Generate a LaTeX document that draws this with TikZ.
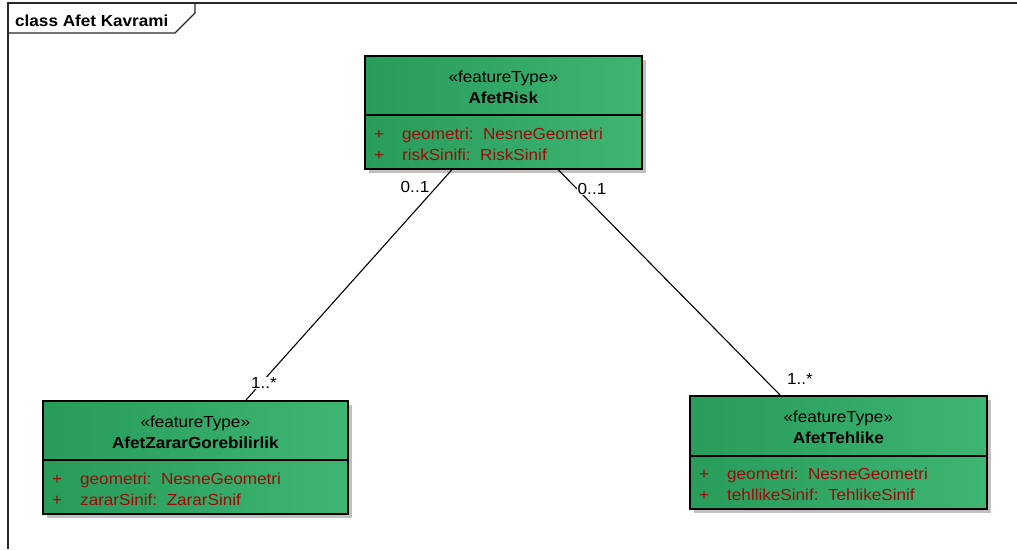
\documentclass[tikz,border=0pt]{standalone}
\usepackage{fontspec}
\setmainfont{Liberation Sans}[FakeStretch=1.07]
\usetikzlibrary{calc}

\definecolor{boxdark}{RGB}{40,156,90}
\definecolor{boxlight}{RGB}{62,181,115}
\definecolor{attrred}{RGB}{155,10,10}
\definecolor{shadowgray}{RGB}{192,192,192}
\definecolor{framegray}{RGB}{40,40,40}

\tikzset{
  umltext/.style={font=\fontsize{16}{18}\selectfont, inner sep=0pt, text=black},
  umlname/.style={umltext, font=\fontsize{16}{18}\selectfont\bfseries},
  umlattr/.style={umltext, text=attrred},
  classbody/.style={draw=black, line width=1.6pt, left color=boxdark, right color=boxlight,
                    inner sep=0pt, anchor=north west},
  mult/.style={font=\fontsize{16}{18}\selectfont, fill=white, inner sep=0.6pt},
  assoc/.style={draw=black, line width=1.1pt},
}

% #1 node name, #2 left, #3 top, #4 width, #5 height, #6 divider offset
% #7 class name, #8 first attribute, #9 second attribute
\newcommand\umlclassbox[9]{%
  \fill[shadowgray] (#2+5,#3+5) rectangle ++(#4,#5);
  \node[classbody, minimum width=#4, minimum height=#5] (#1) at (#2,#3) {};
  \draw[line width=1.6pt] ($(#1.north west)+(0,#6)$) -- ($(#1.north east)+(0,#6)$);
  \node[umltext, anchor=base] (#1-st) at ($(#1.north)+(0,27)$) {«featureType»};
  \node[umlname, anchor=base] (#1-nm) at ($(#1.north)+(0,48)$) {#7};
  \node[umlattr, anchor=base west] (#1-p1) at ($(#1.north west)+(10,84)$) {+};
  \node[umlattr, anchor=base west] (#1-a1) at ($(#1.north west)+(38,84)$) {#8};
  \node[umlattr, anchor=base west] (#1-p2) at ($(#1.north west)+(10,105)$) {+};
  \node[umlattr, anchor=base west] (#1-a2) at ($(#1.north west)+(38,105)$) {#9};
}

\begin{document}
\begin{tikzpicture}[x=1pt,y=-1pt]
\useasboundingbox (0,0) rectangle (1017,549);
\fill[white] (0,0) rectangle (1017,549);

% diagram frame with its name tab
\draw[framegray, line width=1.1pt] (1017,3) -- (8,3) -- (8,549);
\draw[framegray, line width=1.1pt] (8,33) -- (175,33) -- (195,13) -- (195,3);
\node[umlname, anchor=base west] (frametitle) at (15,26) {class Afet Kavrami};

% classes
\umlclassbox{risk}{364}{55}{277}{113}{60}{AfetRisk}
  {geometri:~~NesneGeometri}{riskSinifi:~~RiskSinif}
\umlclassbox{zarar}{42}{400}{305}{113}{60}{AfetZararGorebilirlik}
  {geometri:~~NesneGeometri}{zararSinif:~~ZararSinif}
\umlclassbox{tehlike}{689}{395}{297}{113}{61}{AfetTehlike}
  {geometri:~~NesneGeometri}{tehllikeSinif:~~TehlikeSinif}

% associations
\draw[assoc] ($(risk.south west)+(88,0)$) -- ($(zarar.north west)+(204,0)$);
\draw[assoc] ($(risk.south west)+(194,0)$) -- ($(tehlike.north west)+(91,0)$);

% multiplicities
\node[mult] (m1) at (415,187) {0..1};
\node[mult] (m2) at (264,383) {1..*};
\node[mult] (m3) at (592,189) {0..1};
\node[mult] (m4) at (800,379) {1..*};
\end{tikzpicture}
\end{document}
